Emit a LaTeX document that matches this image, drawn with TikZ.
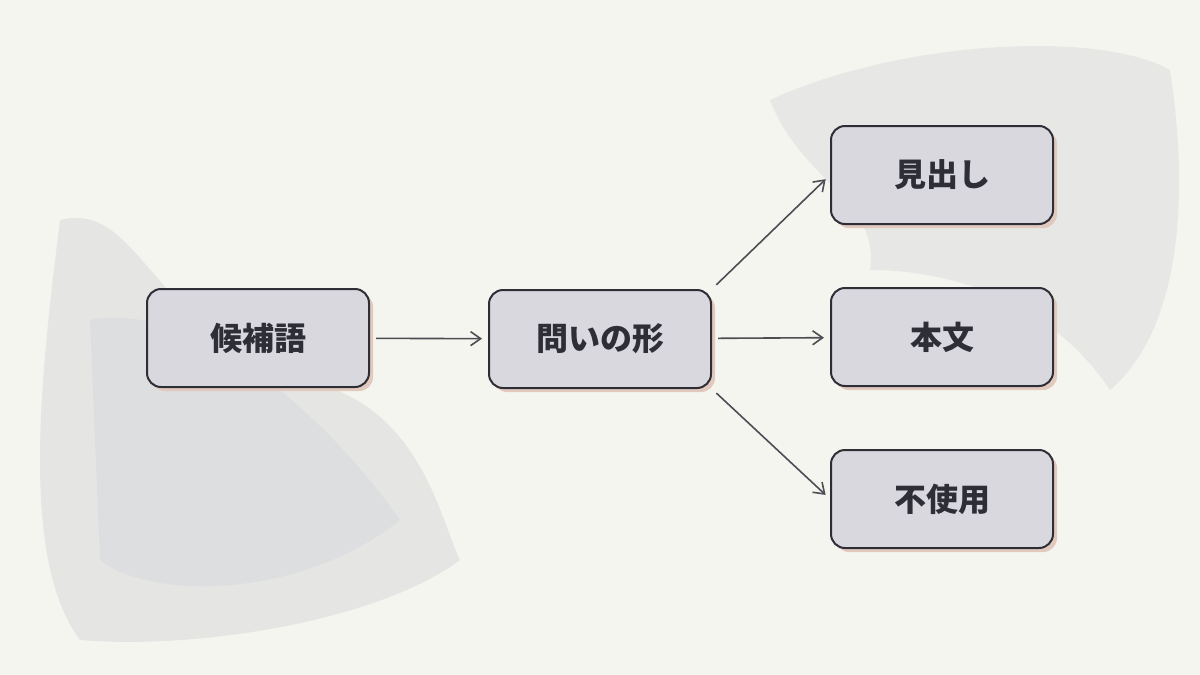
\documentclass[tikz,border=0pt]{standalone}
\usepackage{fontspec}
\newfontfamily\cjk{Noto Sans CJK JP}
\usetikzlibrary{arrows.meta,positioning}
\definecolor{paper}{HTML}{F5F5EF}
\definecolor{wash}{HTML}{C9CAD2}
\definecolor{boxfill}{HTML}{D8D8DE}
\definecolor{ink}{HTML}{2E2E36}
\definecolor{blush}{HTML}{E2C9BE}
\tikzset{
  term/.style={draw=ink, line width=2pt, fill=boxfill, rounded corners=14pt,
    minimum width=222pt, minimum height=98pt, font=\cjk\bfseries\fontsize{32}{32}\selectfont,
    text=ink, inner sep=0pt},
  shade/.style={fill=blush, rounded corners=14pt, minimum width=222pt, minimum height=98pt, draw=none},
  link/.style={draw=ink!85, line width=1.6pt, -{Straight Barb[length=10pt,width=14pt,line width=1.6pt]}, shorten >=6pt, shorten <=6pt}
}
\begin{document}
\begin{tikzpicture}[x=1pt,y=-1pt]
  \fill[paper] (0,0) rectangle (1200,675);
  \useasboundingbox (0,0) rectangle (1200,675);
  % washes
  \fill[wash, opacity=0.35] (60,220) .. controls (140,200) and (150,330) .. (300,380)
    .. controls (420,400) and (440,520) .. (460,560) .. controls (380,620) and (200,650) .. (80,640)
    .. controls (20,560) and (40,380) .. (60,220) -- cycle;
  \fill[wash, opacity=0.25] (90,320) .. controls (200,300) and (330,420) .. (400,520)
    .. controls (300,600) and (150,600) .. (100,560) -- cycle;
  \fill[wash, opacity=0.3] (770,100) .. controls (900,40) and (1100,30) .. (1170,70)
    .. controls (1190,200) and (1180,330) .. (1110,390) .. controls (1050,300) and (950,270) .. (870,270)
    .. controls (880,200) and (800,180) .. (770,100) -- cycle;
  % nodes
  \node[shade] at (262,342) {};
  \node[term] (cand) at (258,338) {候補語};
  \node[shade] at (604,343) {};
  \node[term] (form) at (600,339) {問いの形};
  \node[shade] at (946,179) {};
  \node[term] (head) at (942,175) {見出し};
  \node[shade] at (946,341) {};
  \node[term] (body) at (942,337) {本文};
  \node[shade] at (946,503) {};
  \node[term] (unused) at (942,499) {不使用};
  % links
  \draw[link] (cand) -- (form);
  \draw[link] (form.north east) -- (head.west);
  \draw[link] (form) -- (body);
  \draw[link] (form.south east) -- (unused.west);
\end{tikzpicture}
\end{document}
